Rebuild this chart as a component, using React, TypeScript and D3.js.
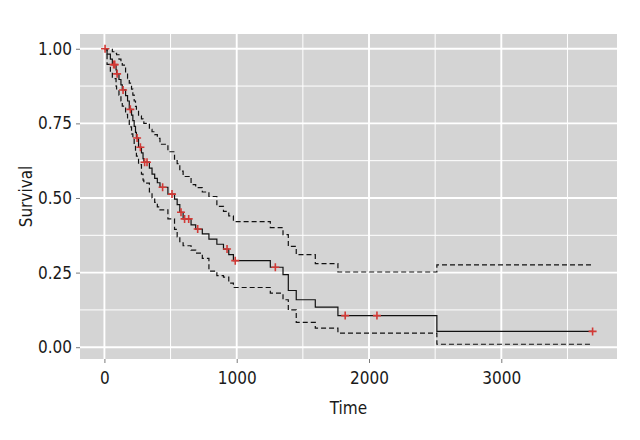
import React, { useEffect, useRef } from "react";
import * as d3 from "d3";

// Kaplan-Meier estimate with confidence band
const eventTimes = [0, 20, 45, 60, 88, 92, 110, 125, 135, 160, 175, 188, 205, 215, 225, 235, 242, 258, 280, 292, 298, 340, 360, 380, 400, 420, 480, 530, 550, 570, 595, 655, 690, 740, 790, 850, 900, 940, 975, 1254, 1350, 1390, 1450, 1594, 1765, 2513];
const survival = [1, 0.982, 0.965, 0.947, 0.929, 0.916, 0.897, 0.879, 0.862, 0.843, 0.825, 0.797, 0.778, 0.759, 0.74, 0.72, 0.701, 0.67, 0.651, 0.632, 0.62, 0.6, 0.58, 0.566, 0.551, 0.536, 0.513, 0.496, 0.478, 0.452, 0.43, 0.41, 0.396, 0.38, 0.362, 0.345, 0.329, 0.31, 0.29, 0.268, 0.243, 0.19, 0.159, 0.134, 0.106, 0.053];
const upperCI = [1, 1, 0.998, 0.99, 0.985, 0.98, 0.965, 0.955, 0.945, 0.92, 0.9, 0.885, 0.865, 0.845, 0.825, 0.807, 0.795, 0.775, 0.765, 0.755, 0.75, 0.73, 0.722, 0.712, 0.7, 0.68, 0.655, 0.625, 0.615, 0.59, 0.572, 0.545, 0.535, 0.52, 0.505, 0.472, 0.455, 0.44, 0.421, 0.401, 0.377, 0.338, 0.31, 0.28, 0.252, 0.276];
const lowerCI = [1, 0.948, 0.925, 0.9, 0.875, 0.862, 0.845, 0.825, 0.808, 0.78, 0.76, 0.738, 0.715, 0.7, 0.68, 0.655, 0.64, 0.612, 0.58, 0.56, 0.55, 0.52, 0.5, 0.485, 0.47, 0.46, 0.43, 0.395, 0.37, 0.35, 0.34, 0.325, 0.315, 0.298, 0.255, 0.24, 0.235, 0.215, 0.2, 0.181, 0.159, 0.125, 0.083, 0.064, 0.047, 0.01];
const censorTimes = [5, 70, 78, 96, 141, 196, 247, 272, 304, 322, 440, 511, 579, 606, 637, 705, 927, 989, 1292, 1820, 2060, 3690];
const endTime = 3690;

const xTicks = [0, 1000, 2000, 3000];
const xMinor = [500, 1500, 2500, 3500];
const yTicks = [0, 0.25, 0.5, 0.75, 1];
const yMinor = [0.125, 0.375, 0.625, 0.875];

const font = "'Liberation Sans Narrow', 'DejaVu Sans Condensed', sans-serif";

const App = () => {
  const svgRef = useRef<SVGSVGElement>(null);

  useEffect(() => {
    const svg = d3.select(svgRef.current);
    svg.selectAll("*").remove();

    const left = 80, right = 617, top = 34, bottom = 359;

    const xPad = (endTime - 0) * 0.05;
    const x = d3.scaleLinear().domain([0 - xPad, endTime + xPad]).range([left, right]);
    const yMin = d3.min(lowerCI) as number;
    const yPad = (1 - yMin) * 0.05;
    const y = d3.scaleLinear().domain([yMin - yPad, 1 + yPad]).range([bottom, top]);

    // panel
    svg.append("rect")
      .attr("x", left).attr("y", top)
      .attr("width", right - left).attr("height", bottom - top)
      .attr("fill", "#d4d4d4");

    const grid = svg.append("g").attr("stroke", "#ffffff");
    grid.selectAll(".xmin").data(xMinor).enter().append("line")
      .attr("x1", (d) => x(d)).attr("x2", (d) => x(d))
      .attr("y1", top).attr("y2", bottom).attr("stroke-width", 1);
    grid.selectAll(".ymin").data(yMinor).enter().append("line")
      .attr("y1", (d) => y(d)).attr("y2", (d) => y(d))
      .attr("x1", left).attr("x2", right).attr("stroke-width", 1);
    grid.selectAll(".xmaj").data(xTicks).enter().append("line")
      .attr("x1", (d) => x(d)).attr("x2", (d) => x(d))
      .attr("y1", top).attr("y2", bottom).attr("stroke-width", 1.9);
    grid.selectAll(".ymaj").data(yTicks).enter().append("line")
      .attr("y1", (d) => y(d)).attr("y2", (d) => y(d))
      .attr("x1", left).attr("x2", right).attr("stroke-width", 1.9);

    // curves
    const pts = (vals: number[]) =>
      eventTimes.map((t, i) => [t, vals[i]] as [number, number])
        .concat([[endTime, vals[vals.length - 1]]]);
    const line = d3.line<[number, number]>()
      .x((d) => x(d[0])).y((d) => y(d[1]))
      .curve(d3.curveStepAfter);

    [upperCI, lowerCI].forEach((vals) => {
      svg.append("path")
        .attr("d", line(pts(vals)))
        .attr("fill", "none")
        .attr("stroke", "#111")
        .attr("stroke-width", 1.2)
        .attr("stroke-dasharray", "5,3");
    });

    svg.append("path")
      .attr("d", line(pts(survival)))
      .attr("fill", "none")
      .attr("stroke", "#111")
      .attr("stroke-width", 1.2);

    // censor marks
    const survAt = (t: number) => survival[d3.bisectRight(eventTimes, t) - 1];
    const size = 4;
    svg.append("g").selectAll("path").data(censorTimes).enter().append("path")
      .attr("d", (d) => {
        const cx = x(d), cy = y(survAt(d));
        return `M${cx - size},${cy}H${cx + size}M${cx},${cy - size}V${cy + size}`;
      })
      .attr("stroke", "#d23a36")
      .attr("stroke-width", 1.6)
      .attr("fill", "none");

    // axes
    const xAxis = svg.append("g").attr("transform", `translate(0,${bottom})`)
      .call(d3.axisBottom(x).tickValues(xTicks).tickSize(4).tickPadding(9).tickFormat(d3.format("d")));
    const yAxis = svg.append("g").attr("transform", `translate(${left},0)`)
      .call(d3.axisLeft(y).tickValues(yTicks).tickSize(4).tickPadding(4).tickFormat(d3.format(".2f")));
    [xAxis, yAxis].forEach((g) => {
      g.select(".domain").remove();
      g.selectAll("line").attr("stroke", "#7a7a7a");
      g.selectAll("text").attr("fill", "#1a1a1a").style("font-family", font).style("font-size", "17px");
    });

    svg.append("text")
      .attr("x", (left + right) / 2).attr("y", 414)
      .attr("text-anchor", "middle")
      .style("font-family", font).style("font-size", "17px")
      .attr("fill", "#1a1a1a")
      .text("Time");

    svg.append("text")
      .attr("transform", `translate(32,${(top + bottom) / 2}) rotate(-90)`)
      .attr("text-anchor", "middle")
      .style("font-family", font).style("font-size", "17px")
      .attr("fill", "#1a1a1a")
      .text("Survival");
  }, []);

  return (
    <svg ref={svgRef} width={640} height={440}
      style={{ position: "absolute", left: 0, top: 0, background: "#fff" }} />
  );
};

export default App;
